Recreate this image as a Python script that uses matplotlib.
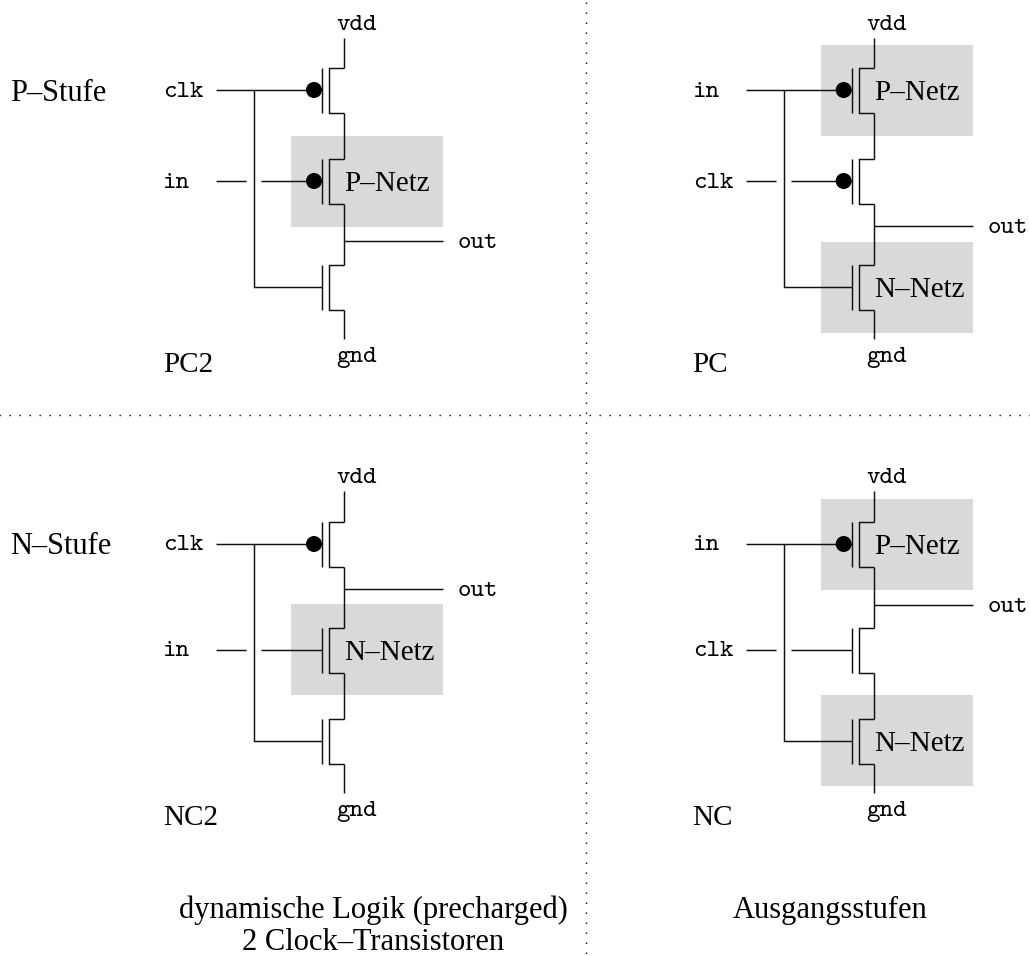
import matplotlib
matplotlib.use("Agg")
import matplotlib.pyplot as plt
from matplotlib.patches import Rectangle, Circle

W, H = 1030, 956
SERIF = ['Liberation Serif', 'DejaVu Serif']
MONO = ['cmtt10', 'DejaVu Sans Mono']
SERIF_SIZE = 21
CAPTION_SIZE = 22
MONO_SIZE = 18.5
LINE = 1.05
INK = '#111111'

# circuits: x of the drain rail, top / bottom rail ends, transistors (kind, gate y),
# gate labels, out y, shaded networks (top y, name)
RAIL_X = [344, 873.7, 344, 873.7]
RAIL_TOP = [38, 38, 491, 491]
RAIL_BOTTOM = [339, 339, 793, 793]
GATE_Y = [[90, 181, 287], [90, 181, 287], [544, 650, 741], [544, 650, 741]]
BUBBLES = [[True, True, False], [True, True, False], [True, False, False], [True, False, False]]
INPUT_LABELS = [['clk', 'in'], ['in', 'clk'], ['clk', 'in'], ['in', 'clk']]
OUT_Y = [241, 226, 589, 605]
NETS = [[(136, 'P–Netz', 181)],
        [(45, 'P–Netz', 90), (242, 'N–Netz', 287)],
        [(604, 'N–Netz', 650)],
        [(499, 'P–Netz', 544), (695, 'N–Netz', 741)]]
CIRCUIT_NAMES = ['PC2', 'PC', 'NC2', 'NC']
NAME_POS = [(163, 365), (692, 365), (163, 818), (692, 818)]
STAGE_LABELS = [('P–Stufe', 10, 93), ('N–Stufe', 10, 547)]
CAPTIONS = [('dynamische Logik (precharged)', 373, 910),
            ('2 Clock–Transistoren', 373, 943),
            ('Ausgangsstufen', 830, 910)]
DIVIDER_X = 586
DIVIDER_Y = 415

fig = plt.figure(figsize=(W / 100, H / 100), dpi=100, facecolor='white')
ax = fig.add_axes([0, 0, 1, 1])
ax.set_xlim(0, W)
ax.set_ylim(H, 0)
ax.axis('off')


def seg(xs, ys):
    ax.plot(xs, ys, color=INK, lw=LINE, solid_capstyle='butt', solid_joinstyle='miter', zorder=3)


def mono(s, x, y, ha='left'):
    ax.text(x, y + 2, s, family=MONO, fontsize=MONO_SIZE, ha=ha, va='center', color='black', zorder=4)


def serif(s, x, y, ha='left', size=SERIF_SIZE):
    ax.text(x, y, s, family=SERIF, fontsize=size, ha=ha, va='center', color='black', zorder=4)


DOTS = (0, (1, 6.2))
ax.plot([DIVIDER_X, DIVIDER_X], [2.3, H], color='black', lw=1.0, ls=DOTS, dash_capstyle='butt', zorder=1)
ax.plot([-1.4, W], [DIVIDER_Y, DIVIDER_Y], color='black', lw=1.0, ls=DOTS, dash_capstyle='butt', zorder=1)

for i in range(4):
    rx, top, bot = RAIL_X[i], RAIL_TOP[i], RAIL_BOTTOM[i]
    g = GATE_Y[i]
    ox = rx - 344
    for ny, name, ty in NETS[i]:
        ax.add_patch(Rectangle((291 + ox, ny), 152, 91, facecolor='#d9d9d9', edgecolor='none', zorder=0))
        serif(name, rx, ty + 3)
    seg([rx, rx], [top, g[0] - 22.5])
    for j, gy in enumerate(g):
        a, b = gy - 22.5, gy + 22.5
        seg([rx, rx - 15, rx - 15, rx], [a, a, b, b])
        seg([rx - 22, rx - 22], [a, b])
        end = g[j + 1] - 22.5 if j < 2 else bot
        seg([rx, rx], [b, end])
        if BUBBLES[i][j]:
            ax.add_patch(Circle((rx - 30, gy), 8, facecolor='black', edgecolor='none', zorder=5))
    lx = rx - 128
    jx = rx - 90
    seg([lx, rx - 22], [g[0], g[0]])
    seg([jx, jx, rx - 22], [g[0], g[2], g[2]])
    seg([lx, jx - 8], [g[1], g[1]])
    seg([jx + 7, rx - 22], [g[1], g[1]])
    seg([rx, rx + 99], [OUT_Y[i], OUT_Y[i]])
    mono(INPUT_LABELS[i][0], rx - 181, g[0])
    mono(INPUT_LABELS[i][1], rx - 181, g[1])
    mono('out', rx + 114, OUT_Y[i])
    mono('vdd', rx + 13, top - 15, ha='center')
    mono('gnd', rx + 13, bot + 17, ha='center')
    serif(CIRCUIT_NAMES[i], NAME_POS[i][0], NAME_POS[i][1])

for s, x, y in STAGE_LABELS:
    serif(s, x, y, size=CAPTION_SIZE)
for s, x, y in CAPTIONS:
    serif(s, x, y, ha='center', size=CAPTION_SIZE)

fig.savefig('out.png', dpi=100)
